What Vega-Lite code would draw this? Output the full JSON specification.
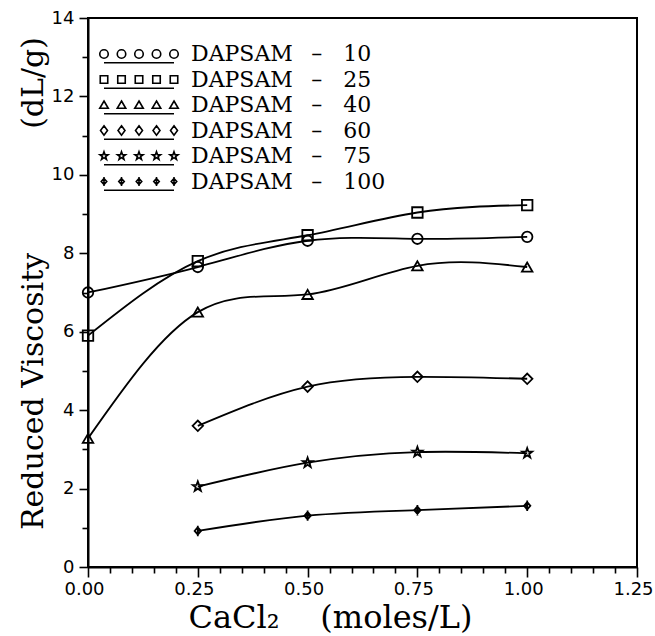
{
  "$schema": "https://vega.github.io/schema/vega-lite/v6.json",
  "width": 549,
  "height": 549,
  "autosize": "none",
  "padding": {"left": 88, "top": 18, "right": 18, "bottom": 69},
  "background": "white",
  "data": {
    "values": [
      {"series": "10", "x": 0, "y": 7.0},
      {"series": "10", "x": 0.25, "y": 7.65},
      {"series": "10", "x": 0.5, "y": 8.32},
      {"series": "10", "x": 0.75, "y": 8.37},
      {"series": "10", "x": 1.0, "y": 8.42},
      {"series": "25", "x": 0, "y": 5.9},
      {"series": "25", "x": 0.25, "y": 7.8},
      {"series": "25", "x": 0.5, "y": 8.46},
      {"series": "25", "x": 0.75, "y": 9.04},
      {"series": "25", "x": 1.0, "y": 9.23},
      {"series": "40", "x": 0, "y": 3.28},
      {"series": "40", "x": 0.25, "y": 6.5},
      {"series": "40", "x": 0.5, "y": 6.95},
      {"series": "40", "x": 0.75, "y": 7.68},
      {"series": "40", "x": 1.0, "y": 7.65},
      {"series": "60", "x": 0.25, "y": 3.6},
      {"series": "60", "x": 0.5, "y": 4.6},
      {"series": "60", "x": 0.75, "y": 4.85},
      {"series": "60", "x": 1.0, "y": 4.8},
      {"series": "75", "x": 0.25, "y": 2.05},
      {"series": "75", "x": 0.5, "y": 2.66},
      {"series": "75", "x": 0.75, "y": 2.93},
      {"series": "75", "x": 1.0, "y": 2.9},
      {"series": "100", "x": 0.25, "y": 0.92},
      {"series": "100", "x": 0.5, "y": 1.31},
      {"series": "100", "x": 0.75, "y": 1.45},
      {"series": "100", "x": 1.0, "y": 1.56}
    ]
  },
  "encoding": {
    "x": {
      "field": "x", "type": "quantitative",
      "scale": {"domain": [0, 1.25], "nice": false, "zero": false},
      "axis": {
        "title": "CaCl₂\u00a0\u00a0\u00a0\u00a0(moles/L)",
        "values": [0,0.05,0.1,0.15,0.2,0.25,0.3,0.35,0.4,0.45,0.5,0.55,0.6,0.65,0.7,0.75,0.8,0.85,0.9,0.95,1.0,1.05,1.1,1.15,1.2,1.25],
        "format": ".2f",
        "labelExpr": "abs(datum.value*4 - round(datum.value*4)) < 0.001 ? datum.label : ''",
        "tickSize": {"condition": {"test": "abs(datum.value*4 - round(datum.value*4)) < 0.001", "value": 10}, "value": 6},
        "labelPadding": 3,
        "labelOffset": -4,
        "titlePadding": 4,
        "titleX": 242,
        "titleFontSize": 32
      }
    },
    "y": {
      "field": "y", "type": "quantitative",
      "scale": {"domain": [0, 14], "nice": false},
      "axis": {
        "title": "Reduced\u00a0Viscosity\u00a0\u00a0\u00a0\u00a0\u00a0\u00a0\u00a0\u00a0\u00a0\u00a0\u00a0\u00a0\u00a0(dL/g)",
        "values": [0,1,2,3,4,5,6,7,8,9,10,11,12,13,14],
        "labelExpr": "datum.value % 2 === 0 ? datum.label : ''",
        "tickSize": {"condition": {"test": "datum.value % 2 === 0", "value": 9}, "value": 6},
        "labelPadding": 5,
        "titleX": -40,
        "titleY": 265,
        "titleFontSize": 30
      }
    }
  },
  "layer": [
    {
      "mark": {"type": "line", "interpolate": "natural", "color": "black", "strokeWidth": 1.8},
      "encoding": {"detail": {"field": "series", "type": "nominal"}}
    },
    {
      "mark": {"type": "point", "filled": false, "color": "black", "strokeWidth": 1.8, "size": 110, "opacity": 1},
      "encoding": {
        "shape": {
          "field": "series", "type": "nominal",
          "scale": {
            "domain": ["10", "25", "40", "60", "75", "100"],
            "range": ["circle", "square", "triangle-up", "diamond",
              "M0,-1L0.235,-0.324L0.951,-0.309L0.38,0.124L0.588,0.809L0,0.4L-0.588,0.809L-0.38,0.124L-0.951,-0.309L-0.235,-0.324Z",
              "M0,-0.7L0.6,0L0,0.7L-0.6,0Z M0,-1L0,1"]
          },
          "legend": null
        }
      }
    },
    {
      "transform": [{"filter": "false"}],
      "mark": {"type": "point", "filled": false, "color": "black", "strokeWidth": 1.6, "size": 100, "opacity": 1},
      "encoding": {
        "shape": {
          "field": "series", "type": "nominal",
          "scale": {
            "domain": ["10", "25", "40", "60", "75", "100"],
            "range": [
              "M-6.15,0 C-6.15,0.47 -6.53,0.85 -7,0.85 C-7.47,0.85 -7.85,0.47 -7.85,0 C-7.85,-0.47 -7.47,-0.85 -7,-0.85 C-6.53,-0.85 -6.15,-0.47 -6.15,0 Z M-2.65,0 C-2.65,0.47 -3.03,0.85 -3.5,0.85 C-3.97,0.85 -4.35,0.47 -4.35,0 C-4.35,-0.47 -3.97,-0.85 -3.5,-0.85 C-3.03,-0.85 -2.65,-0.47 -2.65,0 Z M0.85,0 C0.85,0.47 0.47,0.85 0,0.85 C-0.47,0.85 -0.85,0.47 -0.85,0 C-0.85,-0.47 -0.47,-0.85 0,-0.85 C0.47,-0.85 0.85,-0.47 0.85,0 Z M4.35,0 C4.35,0.47 3.97,0.85 3.5,0.85 C3.03,0.85 2.65,0.47 2.65,0 C2.65,-0.47 3.03,-0.85 3.5,-0.85 C3.97,-0.85 4.35,-0.47 4.35,0 Z M7.85,0 C7.85,0.47 7.47,0.85 7,0.85 C6.53,0.85 6.15,0.47 6.15,0 C6.15,-0.47 6.53,-0.85 7,-0.85 C7.47,-0.85 7.85,-0.47 7.85,0 Z M-7,1.75 L7,1.75",
              "M-7.75,-0.75 L-6.25,-0.75 L-6.25,0.75 L-7.75,0.75 Z M-4.25,-0.75 L-2.75,-0.75 L-2.75,0.75 L-4.25,0.75 Z M-0.75,-0.75 L0.75,-0.75 L0.75,0.75 L-0.75,0.75 Z M2.75,-0.75 L4.25,-0.75 L4.25,0.75 L2.75,0.75 Z M6.25,-0.75 L7.75,-0.75 L7.75,0.75 L6.25,0.75 Z M-7,1.75 L7,1.75",
              "M-7,-0.8 L-6.15,0.65 L-7.85,0.65 Z M-3.5,-0.8 L-2.65,0.65 L-4.35,0.65 Z M0,-0.8 L0.85,0.65 L-0.85,0.65 Z M3.5,-0.8 L4.35,0.65 L2.65,0.65 Z M7,-0.8 L7.85,0.65 L6.15,0.65 Z M-7,1.75 L7,1.75",
              "M-7,-0.95 L-6.3,0 L-7,0.95 L-7.7,0 Z M-3.5,-0.95 L-2.8,0 L-3.5,0.95 L-4.2,0 Z M0,-0.95 L0.7,0 L0,0.95 L-0.7,0 Z M3.5,-0.95 L4.2,0 L3.5,0.95 L2.8,0 Z M7,-0.95 L7.7,0 L7,0.95 L6.3,0 Z M-7,1.75 L7,1.75",
              "M-7,-0.85 L-6.8,-0.275 L-6.192,-0.263 L-6.677,0.105 L-6.5,0.688 L-7,0.34 L-7.5,0.688 L-7.323,0.105 L-7.808,-0.263 L-7.2,-0.275 Z M-3.5,-0.85 L-3.3,-0.275 L-2.692,-0.263 L-3.177,0.105 L-3,0.688 L-3.5,0.34 L-4,0.688 L-3.823,0.105 L-4.308,-0.263 L-3.7,-0.275 Z M0,-0.85 L0.2,-0.275 L0.808,-0.263 L0.323,0.105 L0.5,0.688 L0,0.34 L-0.5,0.688 L-0.323,0.105 L-0.808,-0.263 L-0.2,-0.275 Z M3.5,-0.85 L3.7,-0.275 L4.308,-0.263 L3.823,0.105 L4,0.688 L3.5,0.34 L3,0.688 L3.177,0.105 L2.692,-0.263 L3.3,-0.275 Z M7,-0.85 L7.2,-0.275 L7.808,-0.263 L7.323,0.105 L7.5,0.688 L7,0.34 L6.5,0.688 L6.677,0.105 L6.192,-0.263 L6.8,-0.275 Z M-7,1.75 L7,1.75",
              "M-7,-0.6 L-6.45,0 L-7,0.6 L-7.55,0 Z M-7,-0.9 L-7,0.9 M-3.5,-0.6 L-2.95,0 L-3.5,0.6 L-4.05,0 Z M-3.5,-0.9 L-3.5,0.9 M0,-0.6 L0.55,0 L0,0.6 L-0.55,0 Z M0,-0.9 L0,0.9 M3.5,-0.6 L4.05,0 L3.5,0.6 L2.95,0 Z M3.5,-0.9 L3.5,0.9 M7,-0.6 L7.55,0 L7,0.6 L6.45,0 Z M7,-0.9 L7,0.9 M-7,1.75 L7,1.75"
            ]
          },
          "legend": {
            "orient": "none",
            "legendX": 40,
            "legendY": 25,
            "title": null,
            "padding": 0,
            "labelFont": "DejaVu Serif",
            "labelFontSize": 22,
            "labelColor": "black",
            "labelOffset": 41,
            "labelLimit": 400,
            "labelExpr": "'DAPSAM\u00a0\u00a0\u2009–\u00a0\u00a0\u00a0' + datum.label",
            "symbolSize": 100,
            "symbolStrokeColor": "black",
            "symbolFillColor": "transparent",
            "symbolStrokeWidth": 1.6,
            "rowPadding": 2.5
          }
        }
      }
    }
  ],
  "resolve": {"scale": {"shape": "independent"}},
  "config": {
    "view": {"stroke": "black", "strokeWidth": 2},
    "axis": {
      "grid": false,
      "domainColor": "black",
      "domainWidth": 2,
      "tickColor": "black",
      "tickWidth": 1.6,
      "labelFont": "DejaVu Sans",
      "labelFontSize": 18,
      "labelColor": "black",
      "labelFlush": false,
      "labelOverlap": false,
      "labelBound": false,
      "titleFont": "DejaVu Serif",
      "titleFontSize": 29,
      "titleFontWeight": "normal",
      "titleColor": "black"
    }
  }
}
